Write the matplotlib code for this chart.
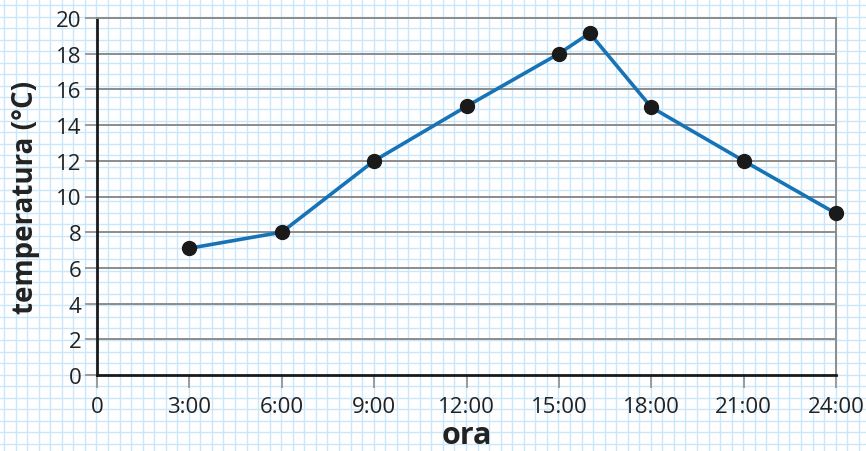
import numpy as np
import matplotlib.pyplot as plt

# Dati: temperatura durante la giornata
ore = [3, 6, 9, 12, 15, 16, 18, 21, 24]
temperature = [7.1, 8.0, 12.0, 15.05, 18.0, 19.15, 15.0, 12.0, 9.05]
x_ticks = [0, 3, 6, 9, 12, 15, 18, 21, 24]
x_tick_labels = ['0', '3:00', '6:00', '9:00', '12:00', '15:00', '18:00', '21:00', '24:00']
y_ticks = list(range(0, 21, 2))

plt.rcParams['font.family'] = ['Open Sans', 'DejaVu Sans']

fig = plt.figure(figsize=(8.66, 4.52), dpi=100)

# Carta a quadretti sullo sfondo
bg = fig.add_axes([0, 0, 1, 1], zorder=0)
bg.set_xlim(0, 866)
bg.set_ylim(452, 0)
bg.axis('off')
passo = 11.55
for xv in np.arange(4, 866, passo):
    bg.axvline(xv, color='#c9e7f9', lw=1.0)
for yv in np.arange(6, 452, passo):
    bg.axhline(yv, color='#c9e7f9', lw=1.0)

ax = fig.add_axes([97 / 866, 76 / 452, 739 / 866, 357 / 452], zorder=1)
ax.patch.set_alpha(0)
ax.set_xlim(0, 24)
ax.set_ylim(0, 20)

# Linee orizzontali grigie
for yv in y_ticks[1:]:
    ax.axhline(yv, color='#8c8c8c', lw=1.4, zorder=1)

ax.plot(ore, temperature, color='#1673b5', lw=2.6, zorder=3,
        marker='o', markersize=10, markerfacecolor='#1a1a1a', markeredgecolor='#1a1a1a',
        clip_on=False)

ax.spines['left'].set_color('#1a1a1a')
ax.spines['left'].set_linewidth(2)
ax.spines['bottom'].set_color('#1a1a1a')
ax.spines['bottom'].set_linewidth(2)
ax.spines['right'].set_color('#8c8c8c')
ax.spines['right'].set_linewidth(1.4)
ax.spines['top'].set_color('#8c8c8c')
ax.spines['top'].set_linewidth(1.4)

ax.set_xticks(x_ticks)
ax.set_xticklabels(x_tick_labels, fontsize=16, color='#222222')
ax.set_yticks(y_ticks)
ax.set_yticklabels([str(v) for v in y_ticks], fontsize=16, color='#222222')
ax.tick_params(axis='both', color='#9a9a9a', width=1.4, length=9)
ax.tick_params(axis='x', pad=6)
ax.tick_params(axis='y', pad=2)

ax.set_xlabel('ora', fontsize=22, fontweight='bold', color='#222222', labelpad=2)
ax.set_ylabel('temperatura (°C)', fontsize=20, fontweight='bold', color='#222222', labelpad=12)

fig.savefig('out.png', dpi=100)
